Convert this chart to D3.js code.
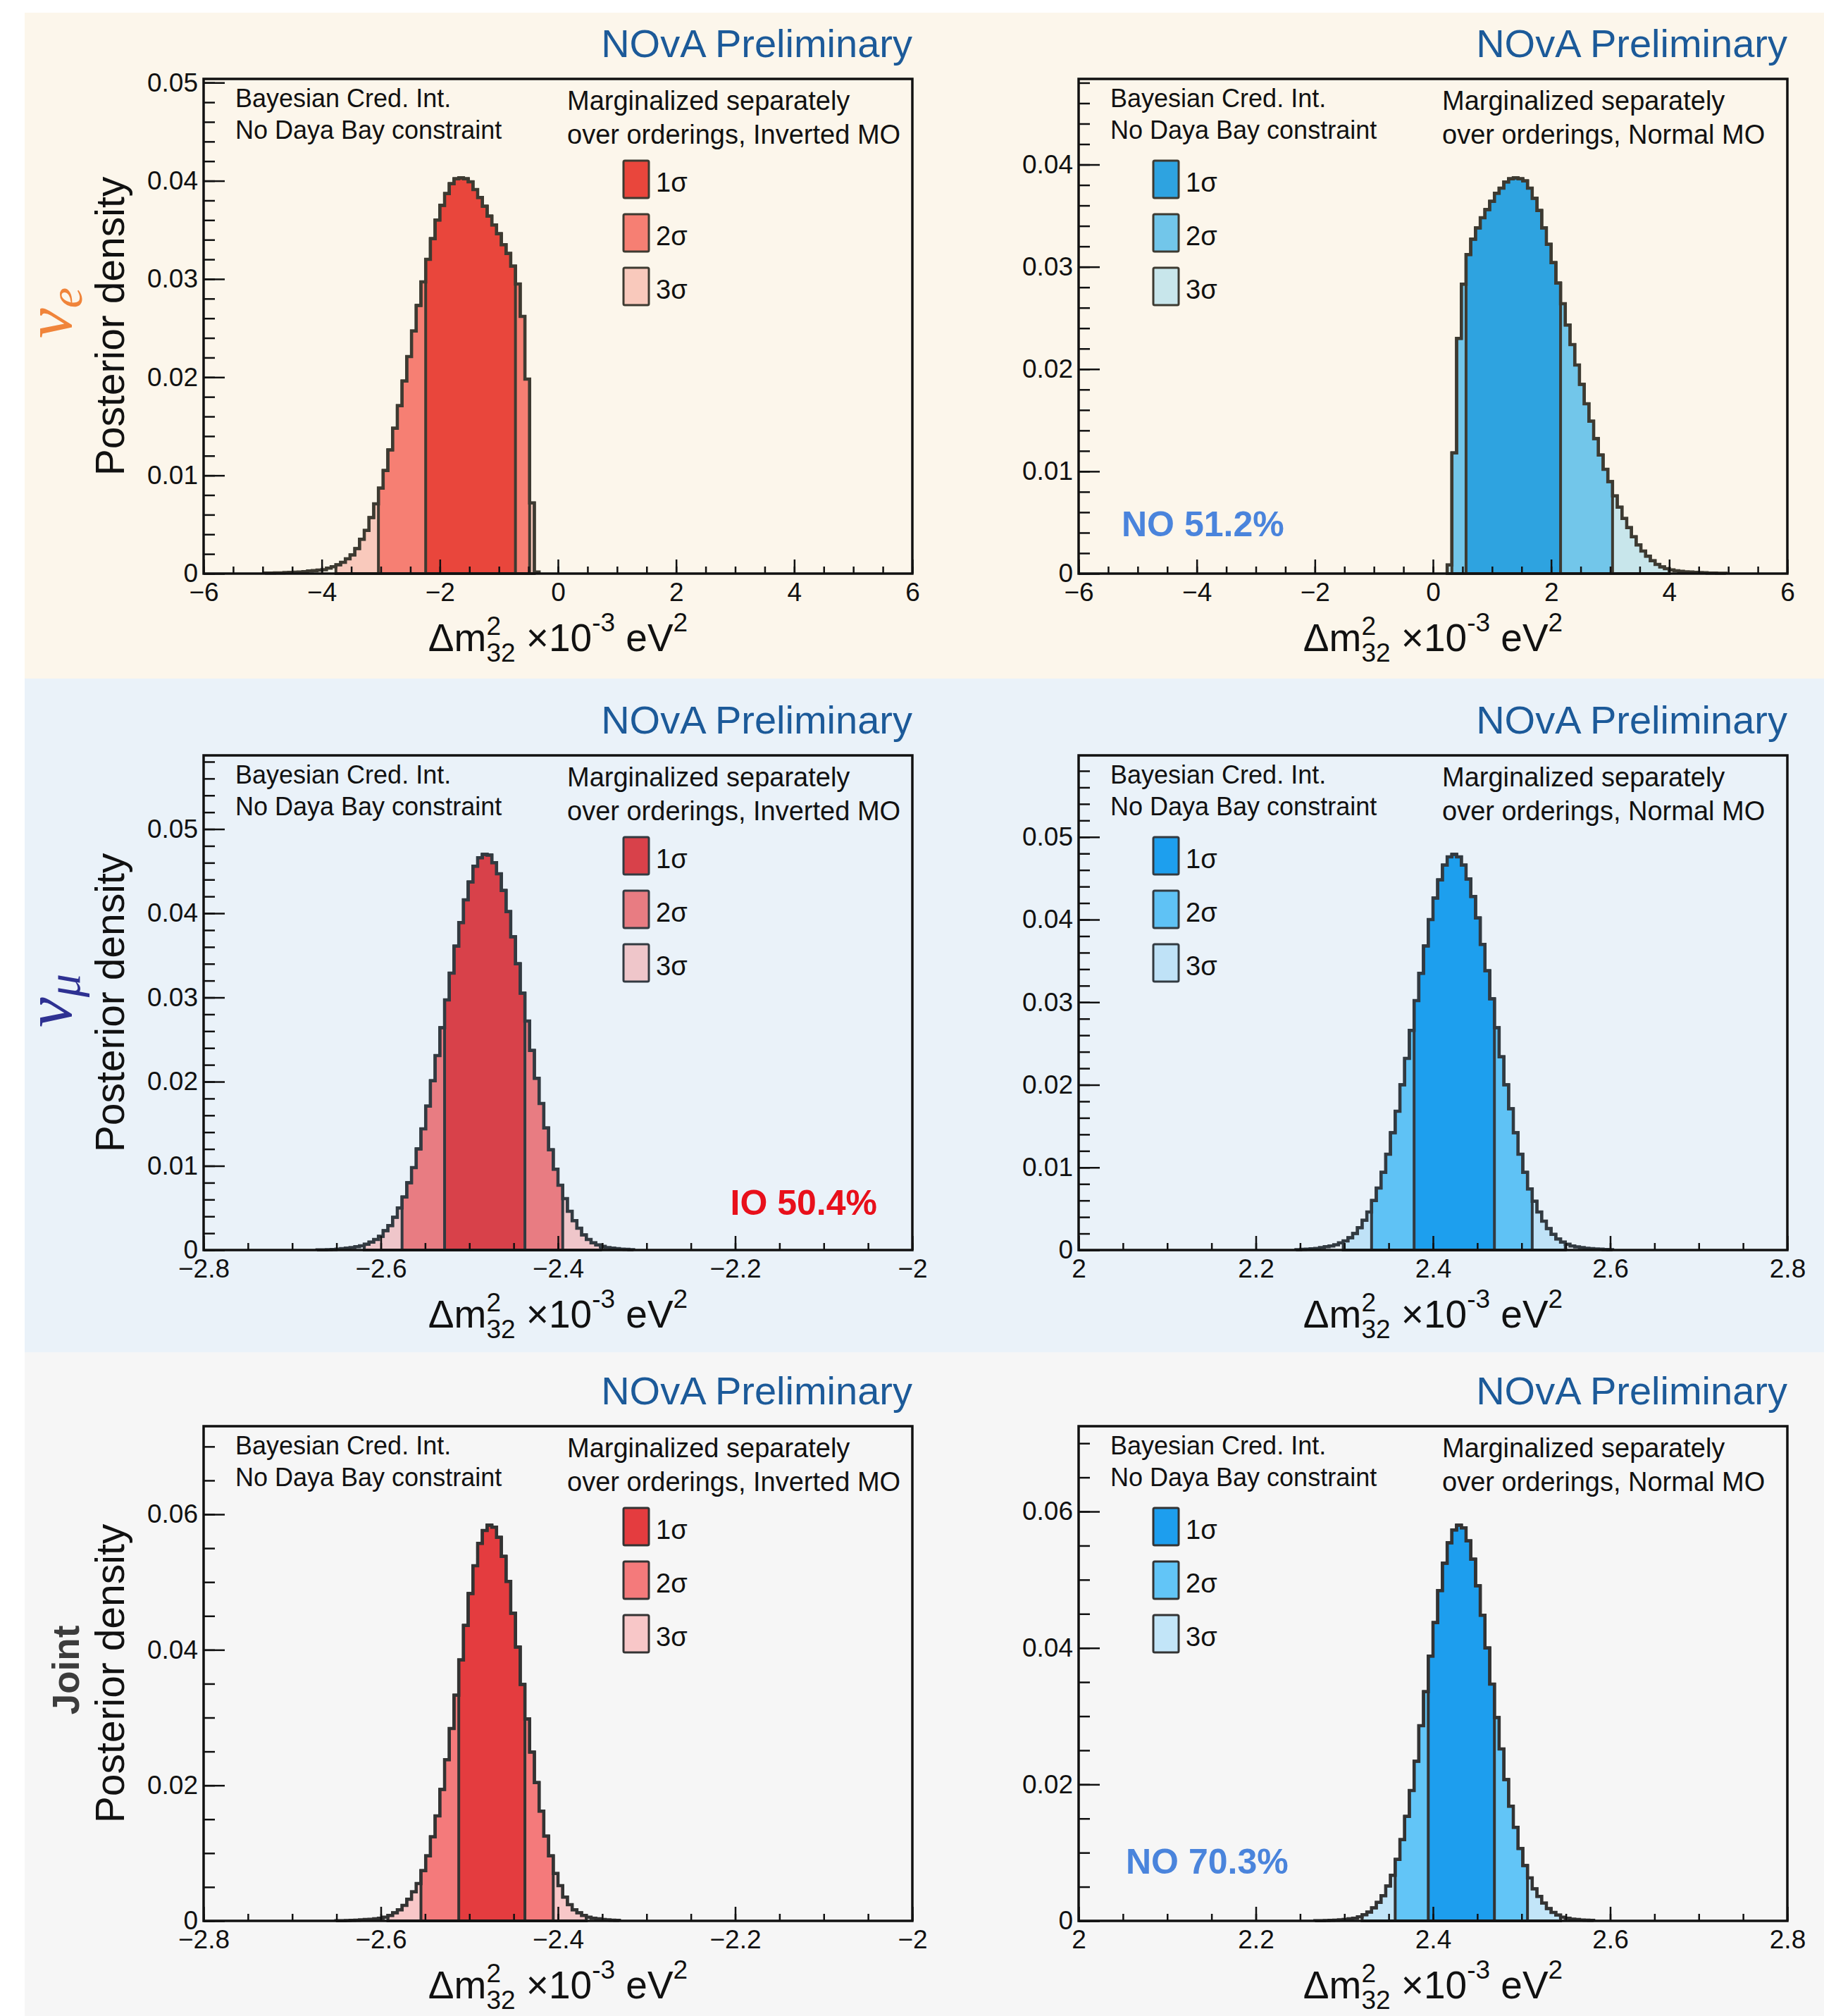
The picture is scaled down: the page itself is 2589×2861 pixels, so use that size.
<!DOCTYPE html>
<html>
<head>
<meta charset="utf-8">
<script src="https://cdn.jsdelivr.net/npm/d3@7"></script>
<style>
  body { margin: 0; background: #fff; }
  svg { display: block; }
</style>
</head>
<body>
<svg id="chart" width="2589" height="2861"></svg>
<script>
// ---- data ----
const nBins = 150;
const veRange = [-6, 6];
const ioRange = [-2.8, -2.0];
const noRange = [2.0, 2.8];

const veXTicks = [-6, -4, -2, 0, 2, 4, 6];
const ioXTicks = [-2.8, -2.6, -2.4, -2.2, -2.0];
const noXTicks = [2.0, 2.2, 2.4, 2.6, 2.8];
const yTicksA = [0, 0.01, 0.02, 0.03, 0.04, 0.05];
const yTicksB = [0, 0.02, 0.04, 0.06];
const sigmaLabels = ["1σ", "2σ", "3σ"];

// nu_e, inverted ordering (first filled bin = 13)
const veIOFirst = 13;
const veIO = [0.00005,0.00006,0.00007,0.00008,0.0001,0.00012,0.00014,0.00017,0.0002,0.00027,0.0003,0.00035,
  0.0004,0.00056,0.0007,0.0009,0.00114,0.0015,0.0019,0.00255,0.0035,0.0044,0.0057,0.0071,0.0087,0.0105,0.0126,
  0.0148,0.0171,0.0196,0.0221,0.0247,0.0273,0.0297,0.0320,0.0341,0.0360,0.0375,0.0387,0.0397,0.0402,0.0403,
  0.0402,0.0399,0.0391,0.0383,0.0374,0.0364,0.0355,0.0346,0.0335,0.0326,0.0313,0.0295,0.0262,0.0198,0.0072,0.00016];
const veIOInt = [[-2.24, -0.72], [-3.04, -0.48], [-3.76, -0.40]];

// nu_e, normal ordering
const veNOFirst = 78;
const veNO = [0.00084,0.0118,0.0230,0.0283,0.0312,0.0327,0.0338,0.0348,0.0356,0.0364,0.0372,0.0377,0.0383,
  0.0386,0.0387,0.0386,0.0384,0.0377,0.0367,0.0355,0.0338,0.0322,0.0304,0.0284,0.0264,0.0243,0.0224,0.0204,
  0.0185,0.0166,0.0149,0.0132,0.0116,0.0102,0.0090,0.0076,0.0065,0.0054,0.0045,0.0036,0.0028,0.0022,0.0017,
  0.00125,0.0009,0.00066,0.00048,0.00036,0.00028,0.00023,0.00018,0.00015,0.00012,0.0001,0.00008,0.00006,
  0.00005,0.00004,0.00003];
const veNOInt = [[0.56, 2.16], [0.32, 3.04], [0.24, 4.0]];

// nu_mu, inverted ordering
const muIOFirst = 24;
const muIO = [0.00002,0.00003,0.00004,0.00006,0.0001,0.00016,0.00022,0.0003,0.0004,0.0005,0.0007,0.00095,
  0.00126,0.00164,0.0023,0.0029,0.0039,0.0050,0.0063,0.0080,0.0098,0.0120,0.0144,0.0171,0.0201,0.0231,0.0264,
  0.0297,0.0329,0.0361,0.0389,0.0416,0.0437,0.0456,0.0466,0.0470,0.0469,0.0460,0.0447,0.0427,0.0402,0.0372,
  0.0340,0.0305,0.0272,0.0237,0.0204,0.0174,0.0145,0.0119,0.0096,0.0077,0.0061,0.0046,0.0035,0.0026,0.0018,
  0.00126,0.00085,0.0006,0.00044,0.0003,0.00022,0.00016,0.00011,0.00008,0.00005];
const muIOInt = [[-2.528, -2.4373], [-2.576, -2.3947], [-2.6187, -2.352]];

// nu_mu, normal ordering
const muNOFirst = 46;
const muNO = [0.00005,0.00008,0.00011,0.00015,0.0002,0.0003,0.0004,0.0005,0.00064,0.00087,0.0011,0.0015,
  0.0020,0.0027,0.0036,0.0046,0.0060,0.0075,0.0094,0.0116,0.0142,0.0168,0.0200,0.0232,0.0266,0.0302,0.0335,
  0.0368,0.0400,0.0426,0.0448,0.0466,0.0476,0.0479,0.0476,0.0466,0.0449,0.0428,0.0402,0.0370,0.0338,0.0304,
  0.0269,0.0234,0.0200,0.0171,0.0142,0.0116,0.0094,0.0074,0.0059,0.0046,0.0035,0.0026,0.0019,0.00135,0.00096,
  0.0007,0.0005,0.00039,0.0003,0.00022,0.00016,0.00012,0.0001,0.00007,0.00005];
const muNOInt = [[2.3787, 2.4693], [2.3307, 2.512], [2.2987, 2.5493]];

// joint, inverted ordering
const jtIOFirst = 28;
const jtIO = [0.00002,0.00003,0.00004,0.00008,0.0001,0.00016,0.0002,0.00024,0.0003,0.0004,0.00055,0.0008,
  0.0012,0.00165,0.0023,0.0032,0.0043,0.0055,0.0074,0.0096,0.0124,0.0155,0.0194,0.0238,0.0284,0.0333,0.0385,
  0.0436,0.0483,0.0524,0.0557,0.0576,0.0584,0.0581,0.0566,0.0538,0.0501,0.0454,0.0404,0.0349,0.0298,0.0249,
  0.0204,0.0162,0.0125,0.0096,0.0070,0.0052,0.0035,0.0024,0.00165,0.0012,0.0008,0.00055,0.0004,0.0003,0.0002,
  0.00015,0.0001,0.00007];
const jtIOInt = [[-2.512, -2.4373], [-2.5547, -2.4053], [-2.592, -2.368]];

// joint, normal ordering
const jtNOFirst = 50;
const jtNO = [0.00002,0.00003,0.00005,0.00007,0.0001,0.00015,0.0002,0.0003,0.0004,0.0006,0.0009,0.0013,
  0.0019,0.0027,0.0037,0.0051,0.0067,0.0090,0.0119,0.0153,0.0191,0.0234,0.0286,0.0336,0.0388,0.0437,0.0484,
  0.0524,0.0554,0.0573,0.0580,0.0576,0.0557,0.0530,0.0491,0.0448,0.0400,0.0347,0.0298,0.0252,0.0207,0.0168,
  0.0137,0.0106,0.0081,0.0063,0.0047,0.0036,0.0026,0.0018,0.00125,0.00086,0.00054,0.0004,0.00027,0.0002,
  0.00014,0.0001,0.00007];
const jtNOInt = [[2.3947, 2.4693], [2.3573, 2.5067], [2.32, 2.544]];

const probLabels = ["NO 51.2%", "IO 50.4%", "NO 70.3%"];

// ---- styles ----
const FONT = '"Liberation Sans", Arial, Helvetica, sans-serif';
const colors = {
  veIO: ["#e9463c", "#f67f73", "#f9c9bc"],
  veNO: ["#2ea3e0", "#72c6ea", "#c8e6eb"],
  muIO: ["#d8414a", "#e87c82", "#efc6ca"],
  muNO: ["#1d9fee", "#5fc2f5", "#bfe2f7"],
  jtIO: ["#e43c3f", "#f47a7b", "#f8c7c8"],
  jtNO: ["#1d9eee", "#62c5f7", "#c2e5f8"]
};
const outline = ["#3d3a31", "#323a41", "#333333"];
const bandFill = ["#fcf6eb", "#eaf2f9", "#f6f6f6"];
const bandY = [[18, 963], [963, 1919], [1919, 2861]];
const colX = [[289, 1295], [1531, 2537]];
const rowY = [[112, 814], [1072, 1774], [2024, 2726]];

const panels = [
  {row: 0, col: 0, range: veRange, first: veIOFirst, values: veIO, ints: veIOInt, fill: colors.veIO,
   xTicks: veXTicks, xMinor: 0.5, xFmt: "d", yTicks: yTicksA, yMinor: 0.002, mo: "Inverted"},
  {row: 0, col: 1, range: veRange, first: veNOFirst, values: veNO, ints: veNOInt, fill: colors.veNO,
   xTicks: veXTicks, xMinor: 0.5, xFmt: "d", yTicks: yTicksA, yMinor: 0.002, mo: "Normal"},
  {row: 1, col: 0, range: ioRange, first: muIOFirst, values: muIO, ints: muIOInt, fill: colors.muIO,
   xTicks: ioXTicks, xMinor: 0.05, xFmt: ".1~f", yTicks: yTicksA, yMinor: 0.002, mo: "Inverted"},
  {row: 1, col: 1, range: noRange, first: muNOFirst, values: muNO, ints: muNOInt, fill: colors.muNO,
   xTicks: noXTicks, xMinor: 0.05, xFmt: ".1~f", yTicks: yTicksA, yMinor: 0.002, mo: "Normal"},
  {row: 2, col: 0, range: ioRange, first: jtIOFirst, values: jtIO, ints: jtIOInt, fill: colors.jtIO,
   xTicks: ioXTicks, xMinor: 0.05, xFmt: ".1~f", yTicks: yTicksB, yMinor: 0.005, mo: "Inverted"},
  {row: 2, col: 1, range: noRange, first: jtNOFirst, values: jtNO, ints: jtNOInt, fill: colors.jtNO,
   xTicks: noXTicks, xMinor: 0.05, xFmt: ".1~f", yTicks: yTicksB, yMinor: 0.005, mo: "Normal"}
];

const svg = d3.select("#chart").attr("font-family", FONT);

svg.selectAll("rect.band").data(bandY).enter().append("rect")
  .attr("class", "band")
  .attr("x", 35).attr("y", d => d[0])
  .attr("width", 2589 - 35).attr("height", d => d[1] - d[0])
  .attr("fill", (d, i) => bandFill[i]);

function styleAxis(sel, size) {
  sel.select(".domain").remove();
  sel.attr("font-family", FONT).attr("font-size", size);
  sel.selectAll(".tick line").attr("stroke", "#111").attr("stroke-width", 2.5);
  sel.selectAll(".tick text").attr("fill", "#111");
}

panels.forEach(p => {
  const [x0, x1] = colX[p.col], [y0, y1] = rowY[p.row];
  const oc = outline[p.row];
  const g = svg.append("g");
  const w = (p.range[1] - p.range[0]) / nBins;
  const ymax = d3.max(p.values) * 1.25;
  const x = d3.scaleLinear().domain(p.range).range([x0, x1]);
  const y = d3.scaleLinear().domain([0, ymax]).range([y1, y0]);

  const bins = p.values.map((v, i) => ({lo: p.range[0] + (p.first + i) * w, v: v}));
  const withEnd = arr => {
    const l = arr[arr.length - 1];
    return arr.concat([{lo: l.lo + w, v: l.v}]);
  };

  const area = d3.area().curve(d3.curveStepAfter)
    .x(d => x(d.lo)).y0(y(0)).y1(d => y(d.v));

  // 3 sigma first, 1 sigma on top
  [2, 1, 0].forEach(s => {
    const [a, b] = p.ints[s];
    const sel = bins.filter(d => d.lo + w / 2 > a && d.lo + w / 2 < b);
    g.append("path")
      .attr("d", area(withEnd(sel)))
      .attr("fill", p.fill[s])
      .attr("stroke", oc)
      .attr("stroke-width", 4);
  });

  const line = d3.line().curve(d3.curveStepAfter).x(d => x(d.lo)).y(d => y(d.v));
  const last = bins[bins.length - 1];
  const full = [{lo: bins[0].lo, v: 0}].concat(withEnd(bins), [{lo: last.lo + w, v: 0}]);
  g.append("path")
    .attr("d", line(full))
    .attr("fill", "none")
    .attr("stroke", oc)
    .attr("stroke-width", 4.5);

  // axes
  g.append("g").attr("transform", `translate(0,${y1})`)
    .call(d3.axisBottom(x).tickValues(d3.range(p.range[0], p.range[1] + 1e-9, p.xMinor))
      .tickSize(-10).tickFormat(""))
    .call(s => styleAxis(s, 37));
  g.append("g").attr("transform", `translate(0,${y1})`)
    .call(d3.axisBottom(x).tickValues(p.xTicks).tickSize(-20).tickPadding(13)
      .tickFormat(d3.format(p.xFmt)))
    .call(s => styleAxis(s, 37));

  g.append("g").attr("transform", `translate(${x0},0)`)
    .call(d3.axisLeft(y).tickValues(d3.range(0, ymax, p.yMinor)).tickSize(-16).tickFormat(""))
    .call(s => styleAxis(s, 37));
  g.append("g").attr("transform", `translate(${x0},0)`)
    .call(d3.axisLeft(y).tickValues(p.yTicks.filter(t => t <= ymax)).tickSize(-30).tickPadding(8)
      .tickFormat(d3.format(".2~f")))
    .call(s => styleAxis(s, 37));

  g.append("rect")
    .attr("x", x0).attr("y", y0).attr("width", x1 - x0).attr("height", y1 - y0)
    .attr("fill", "none").attr("stroke", "#111").attr("stroke-width", 3.5);

  // texts
  g.append("text").attr("x", x1).attr("y", y0 - 31).attr("text-anchor", "end")
    .attr("font-size", 56).attr("fill", "#1c5a99").text("NOvA Preliminary");

  g.append("text").attr("x", x0 + 45).attr("y", y0 + 40).attr("font-size", 36).attr("fill", "#111")
    .text("Bayesian Cred. Int.");
  g.append("text").attr("x", x0 + 45).attr("y", y0 + 85).attr("font-size", 36).attr("fill", "#111")
    .text("No Daya Bay constraint");
  g.append("text").attr("x", x0 + 516).attr("y", y0 + 44).attr("font-size", 38).attr("fill", "#111")
    .text("Marginalized separately");
  g.append("text").attr("x", x0 + 516).attr("y", y0 + 92).attr("font-size", 38).attr("fill", "#111")
    .text(`over orderings, ${p.mo} MO`);

  const lx = x0 + (p.mo === "Inverted" ? 596 : 106);
  sigmaLabels.forEach((lab, i) => {
    g.append("rect").attr("x", lx).attr("y", y0 + 116 + i * 76).attr("width", 36).attr("height", 53)
      .attr("rx", 2).attr("fill", p.fill[i]).attr("stroke", oc).attr("stroke-width", 3);
    g.append("text").attr("x", lx + 46).attr("y", y0 + 160 + i * 76).attr("font-size", 38)
      .attr("fill", "#111").text(lab);
  });

  // x title: Δm^2_32 ×10^-3 eV^2
  const tg = g.append("g");
  let cx = 0;
  const base = y1 + 110;
  const piece = (s, size, dy) => {
    const t = tg.append("text").attr("x", cx).attr("y", base + dy).attr("font-size", size)
      .attr("fill", "#111").text(s);
    return t.node().getComputedTextLength();
  };
  cx += piece("Δm", 55, 0);
  const wa = piece("2", 37, -23);
  const wb = piece("32", 37, 15);
  cx += Math.max(wa, wb);
  cx += piece("\u00a0×10", 55, 0);
  cx += piece("-3", 37, -28);
  cx += piece("\u00a0eV", 55, 0);
  cx += piece("2", 37, -28);
  tg.attr("transform", `translate(${(x0 + x1) / 2 - cx / 2},0)`);

  if (p.col === 0) {
    g.append("text")
      .attr("transform", `translate(176,${(y0 + y1) / 2}) rotate(-90)`)
      .attr("text-anchor", "middle").attr("font-size", 57).attr("fill", "#111")
      .text("Posterior density");
  }
});

// row labels
const nuE = svg.append("text")
  .attr("transform", "translate(101,444) rotate(-90)")
  .attr("text-anchor", "middle").attr("font-family", '"Liberation Serif", "DejaVu Serif", serif')
  .attr("font-style", "italic").attr("fill", "#f0843a");
nuE.append("tspan").attr("font-size", 96).text("ν");
nuE.append("tspan").attr("font-size", 66).attr("dy", 15).text("e");

const nuMu = svg.append("text")
  .attr("transform", "translate(101,1420) rotate(-90)")
  .attr("text-anchor", "middle").attr("font-family", '"Liberation Serif", "DejaVu Serif", serif')
  .attr("font-style", "italic").attr("fill", "#2e3192");
nuMu.append("tspan").attr("font-size", 96).text("ν");
nuMu.append("tspan").attr("font-size", 66).attr("dy", 12).text("μ");

svg.append("text")
  .attr("transform", "translate(112,2370) rotate(-90)")
  .attr("text-anchor", "middle").attr("font-weight", "bold").attr("font-size", 53)
  .attr("fill", "#3c3c3c").text("Joint");

// ordering probabilities
svg.append("text").attr("x", 1592).attr("y", 761).attr("font-size", 50).attr("font-weight", "bold")
  .attr("fill", "#4a84dc").text(probLabels[0]);
svg.append("text").attr("x", 1245).attr("y", 1724).attr("text-anchor", "end").attr("font-size", 50)
  .attr("font-weight", "bold").attr("fill", "#e8101b").text(probLabels[1]);
svg.append("text").attr("x", 1598).attr("y", 2659).attr("font-size", 50).attr("font-weight", "bold")
  .attr("fill", "#4a84dc").text(probLabels[2]);
</script>
</body>
</html>
